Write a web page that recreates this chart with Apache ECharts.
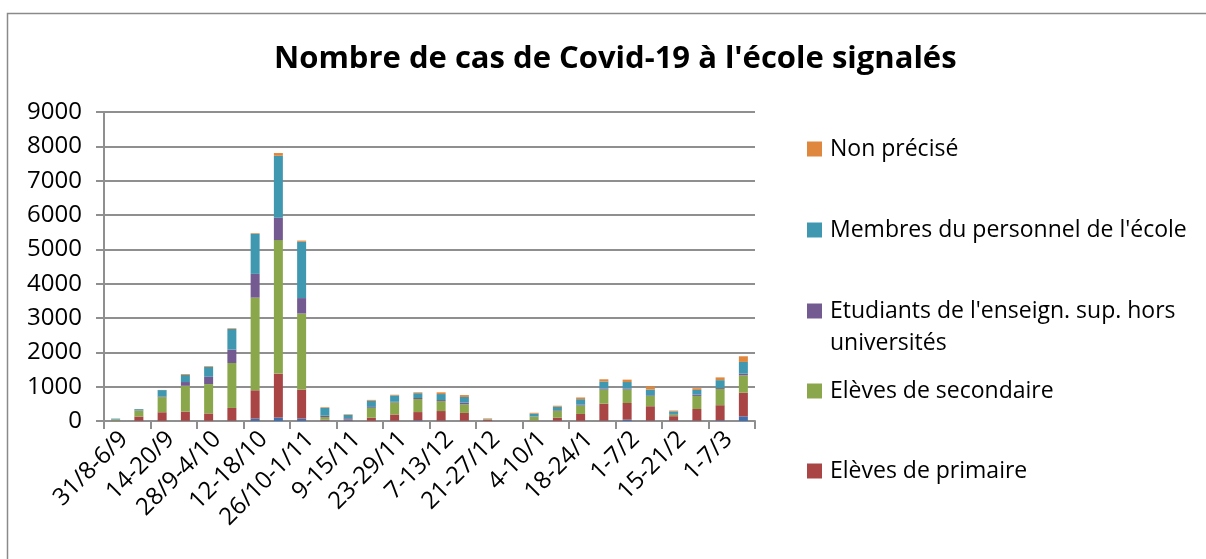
<!DOCTYPE html>
<html>
<head>
<meta charset="utf-8">
<title>Covid-19 écoles</title>
<script src="https://cdn.jsdelivr.net/npm/echarts/dist/echarts.min.js"></script>
<style>
    html, body { margin: 0; padding: 0; background: #fff; }
    #main { width: 1206px; height: 559px; }
</style>
</head>
<body>
<div id="main"></div>
<script>
var weeks = ['31/8-6/9','7-13/9','14-20/9','21-27/9','28/9-4/10','5-11/10','12-18/10','19-25/10','26/10-1/11','2-8/11',
    '9-15/11','16-22/11','23-29/11','30/11-6/12','7-13/12','14-20/12','21-27/12','28/12-3/1','4-10/1','11-17/1',
    '18-24/1','25-31/1','1-7/2','8-14/2','15-21/2','22-28/2','1-7/3','8-14/3'];

// serie du bas, pas dans la légende visible
var maternelle = [5,5,5,5,5,10,70,100,70,15,20,5,5,20,10,5,5,0,5,5,5,10,40,10,10,10,20,135];
var primaire   = [10,125,250,270,215,370,825,1280,845,25,10,90,185,240,280,230,30,0,10,90,200,495,485,420,130,340,440,690];
var secondaire = [30,170,440,750,855,1310,2700,3890,2215,75,10,290,350,380,290,250,10,0,110,200,245,410,390,300,50,380,475,505];
var etudiants  = [5,10,20,110,213,390,690,650,450,40,40,25,20,30,30,50,0,0,10,20,25,30,30,20,15,40,30,50];
var personnel  = [20,35,185,205,290,600,1165,1805,1640,225,100,180,185,140,175,165,10,0,80,100,160,205,190,165,75,135,225,340];
var nonPrecise = [0,5,5,25,20,20,20,80,35,20,15,25,20,25,50,55,20,0,25,30,50,65,70,95,25,50,80,165];

var serieNames = ['Elèves de maternelle','Elèves de primaire','Elèves de secondaire',
    "Etudiants de l'enseign. sup. hors universités","Membres du personnel de l'école",'Non précisé'];
var serieData = [maternelle, primaire, secondaire, etudiants, personnel, nonPrecise];
var colorList = ['#3f6fae','#a94544','#8aa84b','#735b92','#4097b0','#e0873e'];

var fontFam = '"Open Sans", Lato, sans-serif';
var gridColor = '#8f8f8f';

var chart = echarts.init(document.getElementById('main'));

var seriesList = [];
for (var i = 0; i < serieNames.length; i++) {
    seriesList.push({
        name: serieNames[i],
        type: 'bar',
        stack: 'cas',
        barWidth: 9,
        itemStyle: { color: colorList[i] },
        data: serieData[i]
    });
}

// une légende par entrée pour placer chaque ligne comme dans Excel
var legendTops = [133, 214, 263, 375, 455];
var legendOrder = [5, 4, 3, 2, 1];
var legendList = [];
for (var k = 0; k < legendOrder.length; k++) {
    var idx = legendOrder[k];
    var multi = idx == 3;
    legendList.push({
        left: 807,
        top: legendTops[k],
        padding: 0,
        itemWidth: 15,
        itemHeight: 15,
        itemGap: 0,
        icon: 'rect',
        selectedMode: false,
        data: [serieNames[idx]],
        // ligne vide devant pour garder le carré sur la 1re ligne
        formatter: multi ? "\u00a0\nEtudiants de l'enseign. sup. hors\nuniversités" : '{name}',
        textStyle: {
            fontFamily: fontFam,
            fontSize: 23,
            lineHeight: 32,
            color: '#000',
            padding: [0, 0, 0, 3]
        }
    });
}

var option = {
    backgroundColor: '#fff',
    animation: false,
    title: {
        text: "Nombre de cas de Covid-19 à l'école signalés",
        left: 269,
        top: 39,
        textStyle: { fontFamily: fontFam, fontSize: 31, fontWeight: 'bold', color: '#000' }
    },
    legend: legendList,
    graphic: [{
        type: 'rect',
        shape: { x: 7.5, y: 13.5, width: 1300, height: 600 },
        style: { fill: 'none', stroke: '#8a8a8a', lineWidth: 1.5 },
        silent: true
    }],
    grid: { left: 104, right: 451, top: 112, bottom: 138 },
    xAxis: {
        type: 'category',
        data: weeks,
        axisLine: { lineStyle: { color: gridColor, width: 2 } },
        axisTick: { show: true, length: 8, lineStyle: { color: gridColor, width: 2 } },
        axisLabel: {
            interval: 1,
            rotate: 45,
            margin: 6,
            verticalAlign: 'top',
            fontFamily: fontFam,
            fontSize: 24,
            color: '#000'
        }
    },
    yAxis: {
        type: 'value',
        min: 0,
        max: 9000,
        interval: 1000,
        axisLine: { show: true, lineStyle: { color: gridColor, width: 2 } },
        axisTick: { show: true, length: 8, lineStyle: { color: gridColor, width: 2 } },
        splitLine: { lineStyle: { color: gridColor, width: 2 } },
        axisLabel: {
            margin: 22,
            fontFamily: fontFam,
            fontSize: 24,
            color: '#000',
            formatter: function (v) { return String(v); }
        }
    },
    series: seriesList
};

chart.setOption(option);
</script>
</body>
</html>
